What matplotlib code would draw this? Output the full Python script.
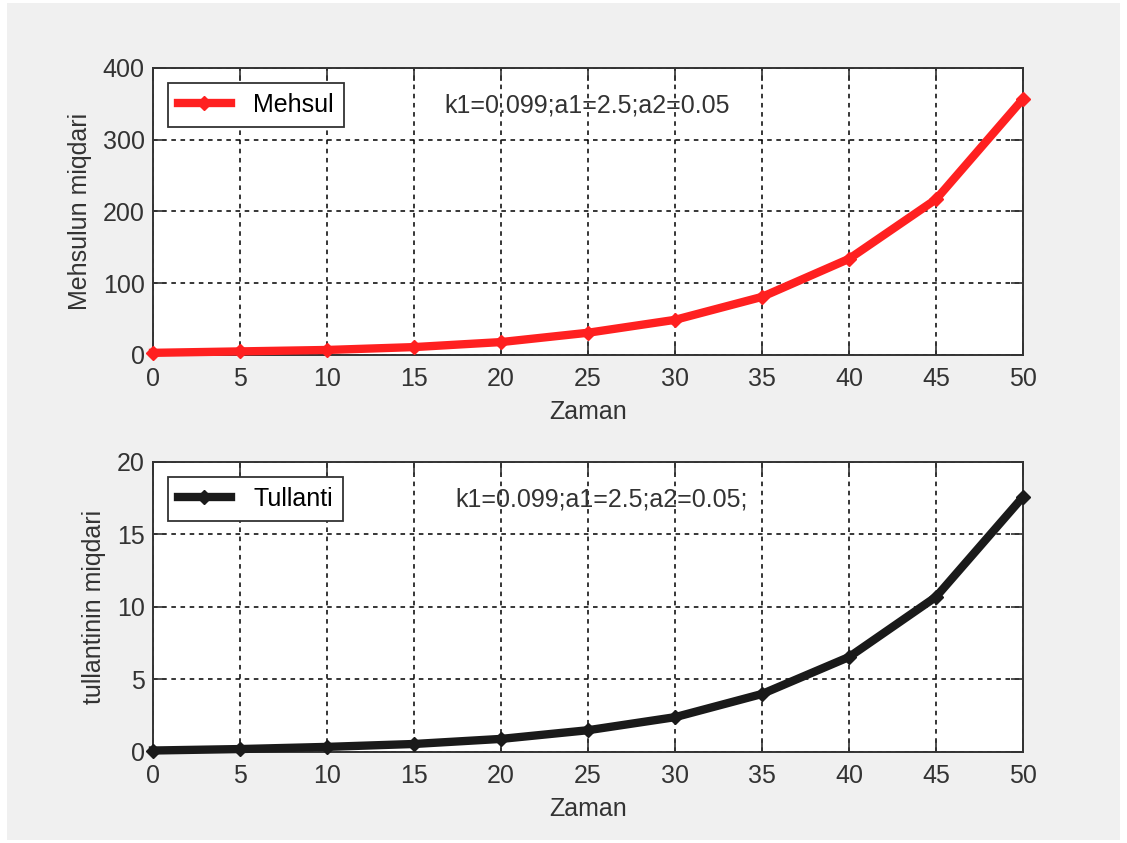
import numpy as np
import matplotlib.pyplot as plt
from matplotlib.patches import Rectangle

# data
zaman = [0, 5, 10, 15, 20, 25, 30, 35, 40, 45, 50]
mehsul = [3, 5, 7, 11, 18, 31, 49, 81, 134, 217, 357]
tullanti = [0.1, 0.2, 0.35, 0.55, 0.9, 1.5, 2.4, 4.0, 6.55, 10.7, 17.6]
param_text = "k1=0.099;a1=2.5;a2=0.05"

plt.rcParams['font.family'] = ['Liberation Sans', 'DejaVu Sans']
plt.rcParams['font.size'] = 18

fig = plt.figure(figsize=(11.27, 8.43), dpi=100)
fig.patch.set_facecolor('white')
fig.patches.append(Rectangle((7 / 1127, 3 / 843), 1113 / 1127, 837 / 843,
                             transform=fig.transFigure, facecolor='#f0f0f0',
                             edgecolor='none', zorder=-10))

def setup(ax, xs, ys, color, label, ylabel, ylim, yticks, txt, txt_x):
    ax.plot(xs, ys, '-D', color=color, lw=6, ms=7, label=label, clip_on=False, zorder=5)
    ax.set_xlim(0, 50)
    ax.set_ylim(*ylim)
    ax.set_xticks(zaman)
    ax.set_yticks(yticks)
    ax.grid(True, color='black', linestyle=(0, (3, 3)), linewidth=1.1)
    ax.tick_params(direction='in', length=9, width=1.2, top=True, right=True,
                   colors='#333333', labelsize=18, pad=6)
    ax.tick_params(axis='x', pad=9)
    for s in ax.spines.values():
        s.set_color('#333333')
        s.set_linewidth(1.4)
    ax.set_xlabel('Zaman', color='#333333', fontsize=18, labelpad=6)
    ax.set_ylabel(ylabel, color='#333333', fontsize=18, labelpad=8)
    leg = ax.legend(loc='upper left', fancybox=False, edgecolor='#333333',
                    framealpha=1, handlelength=2.1, borderaxespad=0.6,
                    borderpad=0.4, handletextpad=0.9, fontsize=18)
    leg.get_frame().set_linewidth(1.3)
    ax.text(txt_x, 0.87, txt, transform=ax.transAxes, fontsize=18,
            color='#333333', ha='left', va='center')

ax1 = fig.add_axes([0.1358, 0.5789, 0.772, 0.3405])
setup(ax1, zaman, mehsul, '#ff2020', 'Mehsul', 'Mehsulun miqdari',
      (0, 400), [0, 100, 200, 300, 400], param_text, 0.335)

ax2 = fig.add_axes([0.1358, 0.108, 0.772, 0.344])
setup(ax2, zaman, tullanti, '#1a1a1a', 'Tullanti', 'tullantinin miqdari',
      (0, 20), [0, 5, 10, 15, 20], param_text + ";", 0.347)

fig.savefig('out.png', dpi=100)
